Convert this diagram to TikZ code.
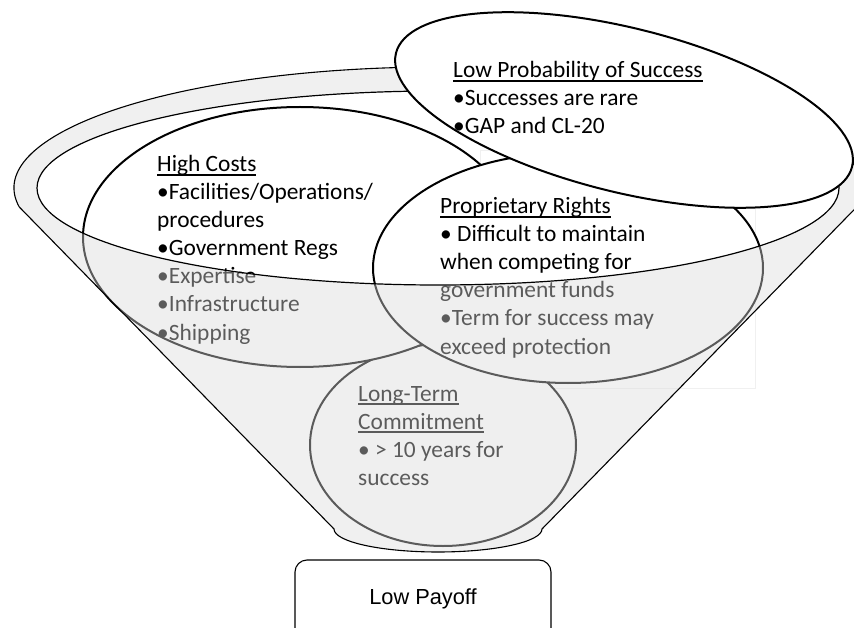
\documentclass[tikz,border=0pt]{standalone}
\usepackage{fontspec}
\setmainfont{Carlito}
\newfontfamily\arialf{Liberation Sans}
\newcommand\myul[1]{\setbox0\hbox{#1}\rlap{\rule[-3.6pt]{\wd0}{1.3pt}}\box0}
\usetikzlibrary{shapes.geometric}
\definecolor{funnelgray}{RGB}{219,219,219}
\begin{document}
\begin{tikzpicture}[x=1pt,y=-1pt,
  bubble/.style={ellipse, draw=black, line width=2pt, fill=white, inner sep=0pt, outer sep=0pt},
  txt/.style={anchor=base west, inner sep=0pt, font=\fontsize{23.4}{28}\selectfont},
  rimline/.style={draw=black, line width=1.2pt}]
\useasboundingbox (0,0) rectangle (854,628);
% faint text box
\draw[draw=black!6, line width=0.8pt] (480,150) rectangle (755,388);
% Long-Term Commitment
\node[bubble, minimum width=266pt, minimum height=202pt] (ltc) at (443,445) {};
\foreach \t [count=\i] in {{\myul{Long-Term}}, {\myul{Commitment}}, {• > 10 years for}, {success}}
  \node[txt] (ltc\i) at (358,{401+28*(\i-1)}) {\t};
% High Costs
\node[bubble, minimum width=434pt, minimum height=260pt] (hc) at (300,237) {};
\foreach \t [count=\i] in {{\myul{High Costs}}, {•Facilities/Operations/}, {procedures}, {•Government Regs}, {•Expertise}, {•Infrastructure}, {•Shipping}}
  \node[txt] (hc\i) at (157,{172+28*(\i-1)}) {\t};
% Proprietary Rights
\node[bubble, minimum width=390pt, minimum height=230pt] (pr) at (568,268) {};
\foreach \t [count=\i] in {{\myul{Proprietary Rights}}, {• Difficult to maintain}, {when competing for}, {government funds}, {•Term for success may}, {exceed protection}}
  \node[txt] (pr\i) at (440,{214+28*(\i-1)}) {\t};
% funnel overlay
\fill[funnelgray, fill opacity=0.42, even odd rule]
  (334,529) -- (19.22,206.93) arc[start angle=171, end angle=369, x radius=424, y radius=121]
  -- (542,529) arc[start angle=0, end angle=180, x radius=104, y radius=23] -- cycle
  (438,188) ellipse[x radius=401, y radius=97];
\draw[line width=1.1pt]
  (334,529) -- (19.22,206.93) arc[start angle=171, end angle=369, x radius=424, y radius=121]
  -- (542,529) arc[start angle=0, end angle=180, x radius=104, y radius=23] -- cycle;
\draw[rimline] (438,188) ellipse[x radius=401, y radius=97];
% Low Probability of Success
\node[bubble, rotate=-14, minimum width=470pt, minimum height=164pt] (lps) at (624,110) {};
\foreach \t [count=\i] in {{\myul{Low Probability of Success}}, {•Successes are rare}, {•GAP and CL-20}}
  \node[txt] (lps\i) at (453,{78+28*(\i-1)}) {\t};
% Low Payoff
\node[draw=black, line width=1.1pt, rounded corners=12pt, minimum width=256pt, minimum height=100pt, inner sep=0pt] (pay) at (423,610) {};
\node[anchor=base, inner sep=0pt, font=\arialf\fontsize{21.8}{26}\selectfont] (paytxt) at (423,604) {Low Payoff};
\end{tikzpicture}
\end{document}
